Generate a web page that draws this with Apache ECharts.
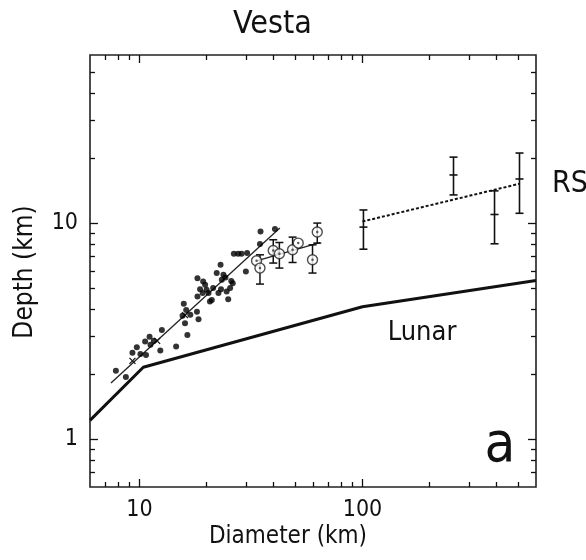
<!DOCTYPE html>
<html>
<head>
<meta charset="utf-8">
<script src="https://cdn.jsdelivr.net/npm/echarts@6/dist/echarts.min.js"></script>
<style>html,body{margin:0;padding:0;background:#fff}#c{width:586px;height:560px}</style>
</head>
<body>
<div id="c"></div>
<script>
// ---- data ----
const xMajorTicks = [10, 100];
const xMinorTicks = [7, 8, 9, 20, 30, 40, 50, 60, 70, 80, 90, 200, 300, 400, 500];
const yMajorTicks = [1, 10];
const yMinorTicks = [0.7, 0.8, 0.9, 2, 3, 4, 5, 6, 7, 8, 9, 20, 30, 40, 50];

const lunarLine = [[6, 1.22], [10.4, 2.15], [100, 4.1], [600, 5.42]];
const smallFitLine = [[7.45, 1.82], [42.6, 9.48]];
const midFitLine = [[33.5, 6.69], [64.4, 8.13]];
const rsLine = [[100, 10.17], [505, 15.2]];

const filledDots = [
  [7.84, 2.07], [8.69, 1.94], [9.30, 2.51], [9.73, 2.66], [10.1, 2.48], [10.6, 2.83],
  [10.7, 2.45], [11.1, 2.98], [11.2, 2.73], [11.6, 2.85], [12.4, 2.57], [12.6, 3.20],
  [14.6, 2.68], [15.8, 4.23], [15.6, 3.72], [16.0, 3.44], [16.2, 3.96], [16.4, 3.03],
  [16.9, 3.76], [18.4, 3.59], [18.1, 3.89], [18.2, 4.57], [18.2, 5.56], [18.7, 4.94],
  [19.3, 5.36], [19.7, 5.18], [19.2, 4.74], [20.0, 4.91], [20.4, 4.74], [20.7, 4.33],
  [21.1, 4.41], [21.4, 5.00], [22.2, 5.87], [22.6, 4.74], [23.1, 6.41], [23.4, 5.46],
  [23.2, 4.94], [23.8, 5.76], [24.6, 4.82], [25.0, 4.44], [25.5, 5.00], [26.2, 5.27],
  [24.3, 5.60], [25.8, 5.40], [26.5, 7.21], [27.7, 7.21], [28.7, 7.21], [30.0, 5.97],
  [30.4, 7.26], [34.7, 8.0], [34.9, 9.14], [40.5, 9.38]
];

// open circles: [diameter, depth]
const openCircles = [
  [33.5, 6.69], [34.7, 6.19], [39.8, 7.46], [42.4, 7.21], [48.6, 7.52],
  [51.5, 8.08], [59.7, 6.76], [62.7, 9.09]
];
// error bars for open circles: [diameter, low, high]
const circleErrors = [
  [34.7, 5.22, 7.13], [39.8, 6.53, 8.37], [42.4, 6.19, 8.13],
  [48.6, 6.57, 8.61], [59.7, 5.87, 7.93], [62.7, 8.08, 10.0]
];
// RS large basins: [diameter, depth, low, high]
const rsBars = [
  [101, 9.58, 7.57, 11.5], [256, 16.7, 13.5, 20.2],
  [391, 10.96, 8.02, 14.1], [506, 16.0, 11.1, 21.1]
];
// fit-line binned means (small cross marks)
const binMarks = [[9.3, 2.3], [12.0, 2.85], [16.0, 3.75]];

// ---- chart ----
const FONT = "'DejaVu Sans Condensed', 'DejaVu Sans', sans-serif";
const chart = echarts.init(document.getElementById('c'), null, {renderer: 'canvas'});

function axisX(pos, ticks, len, labels) {
  return {
    type: 'log', logBase: 10, min: 6, max: 600, position: pos,
    axisLine: {show: false},
    splitLine: {show: false},
    axisTick: {show: true, inside: true, length: len, customValues: ticks,
               lineStyle: {color: '#111', width: 1.3}},
    axisLabel: labels ? {show: true, customValues: labels, color: '#111',
               fontSize: 23, fontFamily: FONT, margin: 12} : {show: false}
  };
}
function axisY(pos, ticks, len, labels) {
  return {
    type: 'log', logBase: 10, min: 0.6, max: 60, position: pos,
    axisLine: {show: false},
    splitLine: {show: false},
    axisTick: {show: true, inside: true, length: len, customValues: ticks,
               lineStyle: {color: '#111', width: 1.3}},
    axisLabel: labels ? {show: true, customValues: labels, color: '#111',
               fontSize: 23, fontFamily: FONT, margin: 12} : {show: false}
  };
}

const errorRender = function (params, api) {
  const x = api.value(0);
  const lo = api.value(1), hi = api.value(2);
  const pLo = api.coord([x, lo]);
  const pHi = api.coord([x, hi]);
  const w = 4;
  const style = {stroke: '#111', lineWidth: 1.5, fill: null};
  return {
    type: 'group',
    children: [
      {type: 'line', shape: {x1: pLo[0], y1: pLo[1], x2: pHi[0], y2: pHi[1]}, style},
      {type: 'line', shape: {x1: pLo[0] - w, y1: pLo[1], x2: pLo[0] + w, y2: pLo[1]}, style},
      {type: 'line', shape: {x1: pHi[0] - w, y1: pHi[1], x2: pHi[0] + w, y2: pHi[1]}, style}
    ]
  };
};
const rsRender = function (params, api) {
  const x = api.value(0);
  const c = api.coord([x, api.value(1)]);
  const pLo = api.coord([x, api.value(2)]);
  const pHi = api.coord([x, api.value(3)]);
  const w = 4;
  const style = {stroke: '#111', lineWidth: 1.6, fill: null};
  return {
    type: 'group',
    children: [
      {type: 'line', shape: {x1: pLo[0], y1: pLo[1], x2: pHi[0], y2: pHi[1]}, style},
      {type: 'line', shape: {x1: pLo[0] - w, y1: pLo[1], x2: pLo[0] + w, y2: pLo[1]}, style},
      {type: 'line', shape: {x1: pHi[0] - w, y1: pHi[1], x2: pHi[0] + w, y2: pHi[1]}, style},
      {type: 'line', shape: {x1: c[0] - w, y1: c[1], x2: c[0] + w, y2: c[1]}, style}
    ]
  };
};
const crossRender = function (params, api) {
  const c = api.coord([api.value(0), api.value(1)]);
  const s = 3;
  const style = {stroke: '#111', lineWidth: 1.2};
  return {type: 'group', children: [
    {type: 'line', shape: {x1: c[0] - s, y1: c[1] - s, x2: c[0] + s, y2: c[1] + s}, style},
    {type: 'line', shape: {x1: c[0] - s, y1: c[1] + s, x2: c[0] + s, y2: c[1] - s}, style}
  ]};
};

chart.setOption({
  animation: false,
  backgroundColor: '#fff',
  grid: {left: 90, top: 55, width: 446, height: 432, show: true,
         borderColor: '#222', borderWidth: 1.6, backgroundColor: 'transparent'},
  xAxis: [
    axisX('bottom', xMajorTicks, 8, xMajorTicks),
    axisX('bottom', xMinorTicks, 5, null),
    axisX('top', xMajorTicks, 8, null),
    axisX('top', xMinorTicks, 5, null)
  ],
  yAxis: [
    axisY('left', yMajorTicks, 8, yMajorTicks),
    axisY('left', yMinorTicks, 5, null),
    axisY('right', yMajorTicks, 8, null),
    axisY('right', yMinorTicks, 5, null)
  ],
  series: [
    {type: 'line', data: lunarLine, showSymbol: false, symbol: 'none',
     lineStyle: {color: '#111', width: 3}, z: 3},
    {type: 'line', data: smallFitLine, symbol: 'none',
     lineStyle: {color: '#222', width: 1.3}, z: 3},
    {type: 'line', data: midFitLine, symbol: 'none',
     lineStyle: {color: '#222', width: 1.3}, z: 3},
    {type: 'line', data: rsLine, symbol: 'none',
     lineStyle: {color: '#111', width: 2, type: [3, 2]}, z: 3},
    {type: 'scatter', data: filledDots, symbol: 'circle', symbolSize: 6,
     itemStyle: {color: '#000'}, z: 4},
    {type: 'custom', data: binMarks, renderItem: crossRender, z: 4},
    {type: 'custom', data: circleErrors, renderItem: errorRender, z: 4},
    {type: 'custom', data: rsBars, renderItem: rsRender, z: 4},
    {type: 'scatter', data: openCircles, symbol: 'circle', symbolSize: 10,
     itemStyle: {color: '#fff', borderColor: '#222', borderWidth: 1.4}, z: 5},
    {type: 'scatter', data: openCircles, symbol: 'circle', symbolSize: 2.5,
     itemStyle: {color: '#333'}, z: 6}
  ],
  graphic: [
    {type: 'text', left: 233, top: 9, style: {text: 'Vesta', font: "32px " + FONT, fill: '#111'}},
    {type: 'text', x: 25, y: 272, rotation: Math.PI / 2,
     style: {text: 'Depth (km)', font: "26px " + FONT, fill: '#111', align: 'center', verticalAlign: 'middle'}},
    {type: 'text', x: 288, y: 537,
     style: {text: 'Diameter (km)', font: "24px " + FONT, fill: '#111', align: 'center', verticalAlign: 'middle'}},
    {type: 'text', x: 422, y: 333,
     style: {text: 'Lunar', font: "27px " + FONT, fill: '#111', align: 'center', verticalAlign: 'middle'}},
    {type: 'text', x: 500, y: 446,
     style: {text: 'a', font: "56px " + FONT, fill: '#111', align: 'center', verticalAlign: 'middle'}},
    {type: 'text', x: 552, y: 184,
     style: {text: 'RS', font: "30px " + FONT, fill: '#111', align: 'left', verticalAlign: 'middle'}}
  ]
});
</script>
</body>
</html>
